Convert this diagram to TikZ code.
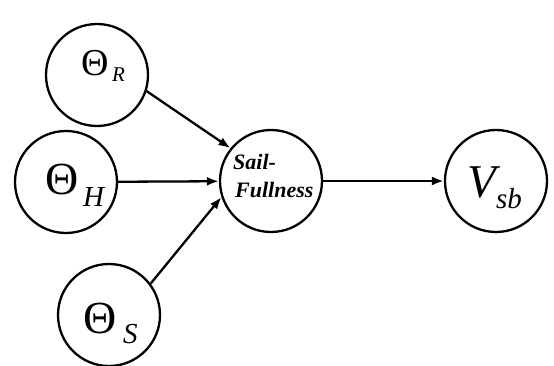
\documentclass[tikz,border=0pt]{standalone}
\usepackage{fontspec}
\setmainfont{Liberation Serif}
\usetikzlibrary{arrows.meta}
\begin{document}
\begin{tikzpicture}[x=1pt,y=-1pt,
  var/.style={circle,draw,line width=2.3pt,minimum size=102pt,inner sep=0pt},
  edge/.style={line width=2.3pt,-{Latex[length=12pt,width=9pt]}},
  txt/.style={inner sep=0pt,anchor=base west}]
\useasboundingbox (0,0) rectangle (554,366);
\node[var] (R) at (97,75) {};
\node[var] (H) at (66,182) {};
\node[var] (S) at (109,315) {};
\node[var] (F) at (271,181) {};
\node[var] (V) at (496,181) {};
% labels
\node[txt,font=\fontsize{38}{38}\selectfont] (tR) at (81,76) {Θ};
\node[txt,font=\fontsize{21}{21}\selectfont\itshape] (sR) at (112,82) {R};
\node[txt,font=\fontsize{46}{46}\selectfont] (tH) at (45,195) {Θ};
\node[txt,font=\fontsize{29}{29}\selectfont\itshape] (sH) at (83,207) {H};
\node[txt,font=\fontsize{46}{46}\selectfont] (tS) at (83,333) {Θ};
\node[txt,font=\fontsize{29}{29}\selectfont\itshape] (sS) at (123,343) {S};
\node[txt,font=\fontsize{47}{47}\selectfont\itshape] (tV) at (467,197) {V};
\node[txt,font=\fontsize{29}{29}\selectfont\itshape] (sV) at (496,208) {sb};
\node[txt,font=\fontsize{22}{22}\selectfont\bfseries\itshape] (f1) at (233,170) {Sail-};
\node[txt,font=\fontsize{22}{22}\selectfont\bfseries\itshape] (f2) at (235,198) {Fullness};
% edges
\draw[edge] (R.-18) -- (F.141);
\draw[edge] (H) -- (F);
\draw[edge] (S.37) -- (F.198);
\draw[edge] (F) -- (V);
\end{tikzpicture}
\end{document}
